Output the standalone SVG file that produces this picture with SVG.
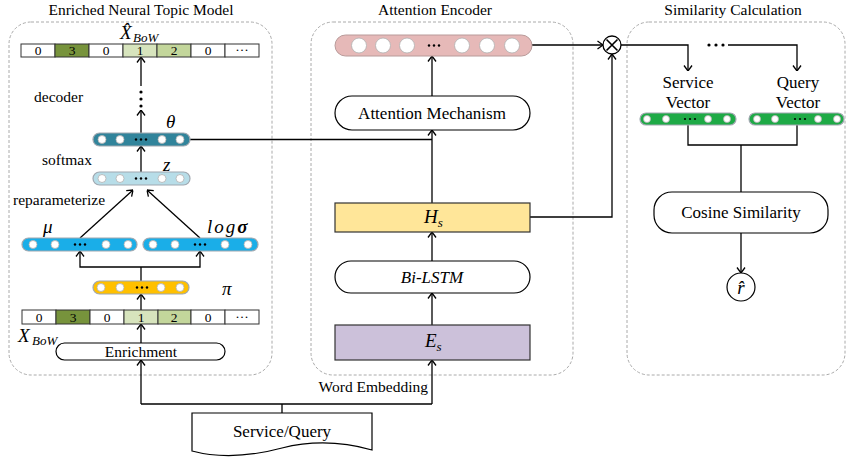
<svg xmlns="http://www.w3.org/2000/svg" width="848" height="462" viewBox="0 0 848 462">
  <defs>
    <marker id="arrow" viewBox="0 0 10 10" refX="10" refY="5" markerWidth="10" markerHeight="10" markerUnits="userSpaceOnUse" orient="auto">
      <path d="M4.5,1 L10,5 L4.5,9" fill="none" stroke="#000" stroke-width="1.3"/>
    </marker>
    <style>
      text { font-family: "Liberation Serif", "Times New Roman", serif; fill: #000; }
      .title { font-size: 15.5px; text-anchor: middle; }
      .lbl { font-size: 15.5px; }
      .box { font-size: 17px; text-anchor: middle; }
      .cell { font-size: 13.5px; text-anchor: middle; }
      .math { font-size: 19px; font-style: italic; }
      .sub { font-size: 13px; font-style: italic; }
      .panel { fill: none; stroke: #aaa; stroke-width: 1; stroke-dasharray: 3 2; }
      .line { fill: none; stroke: #000; stroke-width: 1.3; }
      .arr { fill: none; stroke: #000; stroke-width: 1.3; marker-end: url(#arrow); }
      .pill { fill: #fff; stroke: #000; stroke-width: 1.2; }
      .rectbox { stroke: #333; stroke-width: 1.2; }
      .bar { stroke: #a0a8b0; stroke-width: 1.2; }
      .dot { fill: #fff; stroke: #b0b0b0; stroke-width: 0.8; }
      .ell { fill: #000; }
      .cellbox { stroke: #333; stroke-width: 1; }
    </style>
  </defs>
  <rect width="848" height="462" fill="#fff"/>

  <!-- panels -->
  <g id="panel-ntm">
    <rect class="panel" x="9" y="22" width="263" height="353" rx="22"/>
    <text class="title" x="141" y="15">Enriched Neural Topic Model</text>
  </g>
  <g id="panel-encoder">
    <rect class="panel" x="311" y="22" width="262" height="353" rx="22"/>
    <text class="title" x="435" y="15">Attention Encoder</text>
  </g>
  <g id="panel-similarity">
    <rect class="panel" x="627" y="22" width="218" height="353" rx="22"/>
    <text class="title" x="733" y="15">Similarity Calculation</text>
  </g>

  <!-- connectors -->
  <g id="connectors">
    <!-- decoder path -->
    <line class="arr" x1="141" y1="133" x2="141" y2="110"/>
    <circle class="ell" cx="141" cy="92" r="1.6"/>
    <circle class="ell" cx="141" cy="99" r="1.6"/>
    <circle class="ell" cx="141" cy="106" r="1.6"/>
    <line class="arr" x1="141" y1="86" x2="141" y2="57"/>
    <!-- z to theta -->
    <line class="arr" x1="141" y1="172" x2="141" y2="146"/>
    <!-- mu / log sigma to z -->
    <line class="arr" x1="80" y1="238" x2="133" y2="190"/>
    <line class="arr" x1="200" y1="238" x2="147" y2="190"/>
    <!-- pi to mu / log sigma -->
    <polyline class="line" points="141,281 141,267"/>
    <polyline class="arr" points="141,267 80,267 80,251"/>
    <polyline class="arr" points="141,267 200,267 200,251"/>
    <!-- X_BoW to pi -->
    <line class="arr" x1="141" y1="310" x2="141" y2="294"/>
    <!-- enrichment to X_BoW -->
    <line class="arr" x1="141" y1="343" x2="141" y2="324"/>
    <!-- input distribution -->
    <line class="line" x1="282" y1="413" x2="282" y2="404"/>
    <polyline class="arr" points="141,404 141,360"/>
    <line class="line" x1="141" y1="404" x2="432" y2="404"/>
    <line class="arr" x1="432" y1="404" x2="432" y2="360"/>
    <!-- encoder chain -->
    <line class="arr" x1="432" y1="325" x2="432" y2="293"/>
    <line class="arr" x1="432" y1="261" x2="432" y2="232"/>
    <line class="arr" x1="432" y1="203" x2="432" y2="130"/>
    <line class="arr" x1="432" y1="96" x2="432" y2="56"/>
    <!-- theta to attention -->
    <line class="line" x1="190" y1="139.5" x2="432" y2="139.5"/>
    <!-- to the product node -->
    <line class="arr" x1="532" y1="45" x2="603" y2="45"/>
    <polyline class="arr" points="530,217 612,217 612,54"/>
    <!-- product node to vectors -->
    <polyline class="arr" points="621,45 688,45 688,71"/>
    <circle class="ell" cx="709" cy="45" r="1.6"/>
    <circle class="ell" cx="716" cy="45" r="1.6"/>
    <circle class="ell" cx="723" cy="45" r="1.6"/>
    <polyline class="arr" points="728,45 797,45 797,71"/>
    <!-- vectors to cosine -->
    <polyline class="line" points="688,125 688,145 797,145 797,125"/>
    <line class="line" x1="741" y1="145" x2="741" y2="192"/>
    <line class="arr" x1="741" y1="233" x2="741" y2="273"/>
  </g>

  <!-- reconstructed bag of words -->
  <g id="xhat-bow">
    <rect class="cellbox" x="21" y="44" width="34" height="13" fill="#fff"/>
    <rect class="cellbox" x="55" y="44" width="34" height="13" fill="#77933C"/>
    <rect class="cellbox" x="89" y="44" width="34" height="13" fill="#fff"/>
    <rect class="cellbox" x="123" y="44" width="34" height="13" fill="#D7E4BD"/>
    <rect class="cellbox" x="157" y="44" width="34" height="13" fill="#C3D69B"/>
    <rect class="cellbox" x="191" y="44" width="34" height="13" fill="#fff"/>
    <rect class="cellbox" x="225" y="44" width="34" height="13" fill="#fff"/>
    <text class="cell" x="38" y="55">0</text>
    <text class="cell" x="72" y="55">3</text>
    <text class="cell" x="106" y="55">0</text>
    <text class="cell" x="140" y="55">1</text>
    <text class="cell" x="174" y="55">2</text>
    <text class="cell" x="208" y="55">0</text>
    <text class="cell" x="242" y="54" font-size="10">···</text>
    <text class="math" x="120" y="39" font-size="18">X̂</text>
    <text class="sub" x="133" y="41.5" font-size="12">BoW</text>
  </g>

  <text class="lbl" x="34" y="102">decoder</text>

  <g id="theta">
    <rect class="bar" x="93" y="133" width="97" height="13" rx="6.5" fill="#31849B"/>
    <circle class="dot" cx="102" cy="139.5" r="4"/>
    <circle class="dot" cx="120" cy="139.5" r="4"/>
    <circle class="ell" cx="136" cy="139.5" r="1.2"/>
    <circle class="ell" cx="141" cy="139.5" r="1.2"/>
    <circle class="ell" cx="146" cy="139.5" r="1.2"/>
    <circle class="dot" cx="162" cy="139.5" r="4"/>
    <circle class="dot" cx="180" cy="139.5" r="4"/>
    <text class="math" x="166" y="128">θ</text>
  </g>

  <text class="lbl" x="42" y="165">softmax</text>

  <g id="z">
    <rect class="bar" x="93" y="172" width="97" height="13" rx="6.5" fill="#B7DDE8"/>
    <circle class="dot" cx="102" cy="178.5" r="4"/>
    <circle class="dot" cx="120" cy="178.5" r="4"/>
    <circle class="ell" cx="136" cy="178.5" r="1.2"/>
    <circle class="ell" cx="141" cy="178.5" r="1.2"/>
    <circle class="ell" cx="146" cy="178.5" r="1.2"/>
    <circle class="dot" cx="162" cy="178.5" r="4"/>
    <circle class="dot" cx="180" cy="178.5" r="4"/>
    <text class="math" x="163" y="171">z</text>
  </g>

  <text class="lbl" x="13" y="205">reparameterize</text>

  <g id="mu">
    <rect class="bar" x="22" y="238" width="115" height="13" rx="6.5" fill="#1AAEE8"/>
    <circle class="dot" cx="33" cy="244.5" r="4"/>
    <circle class="dot" cx="55" cy="244.5" r="4"/>
    <circle class="ell" cx="75" cy="244.5" r="1.2"/>
    <circle class="ell" cx="80" cy="244.5" r="1.2"/>
    <circle class="ell" cx="85" cy="244.5" r="1.2"/>
    <circle class="dot" cx="106" cy="244.5" r="4"/>
    <circle class="dot" cx="128" cy="244.5" r="4"/>
    <text class="math" x="43" y="233">μ</text>
  </g>

  <g id="log-sigma">
    <rect class="bar" x="143" y="238" width="115" height="13" rx="6.5" fill="#1AAEE8"/>
    <circle class="dot" cx="153" cy="244.5" r="4"/>
    <circle class="dot" cx="175" cy="244.5" r="4"/>
    <circle class="ell" cx="195" cy="244.5" r="1.2"/>
    <circle class="ell" cx="200" cy="244.5" r="1.2"/>
    <circle class="ell" cx="205" cy="244.5" r="1.2"/>
    <circle class="dot" cx="225" cy="244.5" r="4"/>
    <circle class="dot" cx="248" cy="244.5" r="4"/>
    <text class="math" x="207" y="233" letter-spacing="2">log<tspan font-weight="bold">σ</tspan></text>
  </g>

  <g id="pi">
    <rect class="bar" x="93" y="281" width="96" height="13" rx="6.5" fill="#FFC000"/>
    <circle class="dot" cx="101" cy="287.5" r="4"/>
    <circle class="dot" cx="120" cy="287.5" r="4"/>
    <circle class="ell" cx="137" cy="287.5" r="1.2"/>
    <circle class="ell" cx="142" cy="287.5" r="1.2"/>
    <circle class="ell" cx="147" cy="287.5" r="1.2"/>
    <circle class="dot" cx="161" cy="287.5" r="4"/>
    <circle class="dot" cx="180" cy="287.5" r="4"/>
    <text class="math" x="222" y="295">π</text>
  </g>

  <!-- bag of words input -->
  <g id="x-bow">
    <rect class="cellbox" x="22" y="310" width="34" height="14" fill="#fff"/>
    <rect class="cellbox" x="56" y="310" width="34" height="14" fill="#77933C"/>
    <rect class="cellbox" x="90" y="310" width="34" height="14" fill="#fff"/>
    <rect class="cellbox" x="124" y="310" width="34" height="14" fill="#D7E4BD"/>
    <rect class="cellbox" x="158" y="310" width="33" height="14" fill="#C3D69B"/>
    <rect class="cellbox" x="191" y="310" width="34" height="14" fill="#fff"/>
    <rect class="cellbox" x="225" y="310" width="34" height="14" fill="#fff"/>
    <text class="cell" x="39" y="321.5">0</text>
    <text class="cell" x="73" y="321.5">3</text>
    <text class="cell" x="107" y="321.5">0</text>
    <text class="cell" x="141" y="321.5">1</text>
    <text class="cell" x="174" y="321.5">2</text>
    <text class="cell" x="208" y="321.5">0</text>
    <text class="cell" x="242" y="320.5" font-size="10">···</text>
    <text class="math" x="18" y="342">X</text>
    <text class="sub" x="32" y="345">BoW</text>
  </g>

  <g id="enrichment">
    <rect class="pill" x="56" y="343" width="169" height="17" rx="8.5"/>
    <text class="lbl" x="141" y="357" text-anchor="middle">Enrichment</text>
  </g>

  <g id="service-query">
    <path d="M192,413 H372 V450 C340,441 310,441 282,448 C252,456 222,459 192,451 Z" fill="#fff" stroke="#000" stroke-width="1.2"/>
    <text class="box" x="282" y="437">Service/Query</text>
  </g>
  <text class="lbl" x="428" y="392" text-anchor="end">Word Embedding</text>

  <!-- attention encoder -->
  <g id="encoder-output">
    <rect x="335" y="35" width="197" height="21" rx="10.5" fill="#E6B9B8" stroke="#b89a99" stroke-width="1"/>
    <circle class="dot" cx="359" cy="45.5" r="7.5" stroke="#999"/>
    <circle class="dot" cx="383" cy="45.5" r="7.5" stroke="#999"/>
    <circle class="dot" cx="407" cy="45.5" r="7.5" stroke="#999"/>
    <circle class="ell" cx="429" cy="45.5" r="1.2"/>
    <circle class="ell" cx="434" cy="45.5" r="1.2"/>
    <circle class="ell" cx="439" cy="45.5" r="1.2"/>
    <circle class="dot" cx="462" cy="45.5" r="7.5" stroke="#999"/>
    <circle class="dot" cx="487" cy="45.5" r="7.5" stroke="#999"/>
    <circle class="dot" cx="512" cy="45.5" r="7.5" stroke="#999"/>
  </g>

  <g id="attention-mechanism">
    <rect class="pill" x="335" y="96" width="195" height="34" rx="17"/>
    <text class="box" x="432" y="119">Attention Mechanism</text>
  </g>

  <g id="hs">
    <rect class="rectbox" x="335" y="203" width="195" height="29" fill="#FFE699"/>
    <text class="math" x="424" y="223">H<tspan class="sub" dy="4">s</tspan></text>
  </g>

  <g id="bilstm">
    <rect class="pill" x="335" y="261" width="195" height="32" rx="16"/>
    <text class="box" x="432" y="283" font-style="italic">Bi-LSTM</text>
  </g>

  <g id="es">
    <rect class="rectbox" x="335" y="325" width="195" height="35" fill="#CCC1DA"/>
    <text class="math" x="425" y="347">E<tspan class="sub" dy="4">s</tspan></text>
  </g>

  <!-- product node -->
  <g id="product">
    <circle cx="612" cy="45" r="9" fill="#fff" stroke="#000" stroke-width="1.3"/>
    <path d="M606.5,39.5 L617.5,50.5 M617.5,39.5 L606.5,50.5" stroke="#000" stroke-width="1.6"/>
  </g>

  <!-- similarity -->
  <g id="service-vector">
    <text class="box" x="688" y="88">Service</text>
    <text class="box" x="688" y="108">Vector</text>
    <rect class="bar" x="640" y="113" width="96" height="12" rx="6" fill="#1EAA46"/>
    <circle class="dot" cx="647" cy="119" r="3.5"/>
    <circle class="dot" cx="666" cy="119" r="3.5"/>
    <circle class="ell" cx="685" cy="119" r="1.1"/>
    <circle class="ell" cx="690" cy="119" r="1.1"/>
    <circle class="ell" cx="695" cy="119" r="1.1"/>
    <circle class="dot" cx="708" cy="119" r="3.5"/>
    <circle class="dot" cx="727" cy="119" r="3.5"/>
  </g>

  <g id="query-vector">
    <text class="box" x="798" y="88">Query</text>
    <text class="box" x="798" y="108">Vector</text>
    <rect class="bar" x="749" y="113" width="95" height="12" rx="6" fill="#1EAA46"/>
    <circle class="dot" cx="757" cy="119" r="3.5"/>
    <circle class="dot" cx="775" cy="119" r="3.5"/>
    <circle class="ell" cx="795" cy="119" r="1.1"/>
    <circle class="ell" cx="800" cy="119" r="1.1"/>
    <circle class="ell" cx="805" cy="119" r="1.1"/>
    <circle class="dot" cx="818" cy="119" r="3.5"/>
    <circle class="dot" cx="837" cy="119" r="3.5"/>
  </g>

  <g id="cosine-similarity">
    <rect class="pill" x="654" y="192" width="174" height="41" rx="18"/>
    <text class="box" x="741" y="218">Cosine Similarity</text>
  </g>

  <g id="r-hat">
    <circle cx="741" cy="287" r="14" fill="#fff" stroke="#000" stroke-width="1.2"/>
    <text class="math" x="741" y="294" text-anchor="middle">r̂</text>
  </g>
</svg>
